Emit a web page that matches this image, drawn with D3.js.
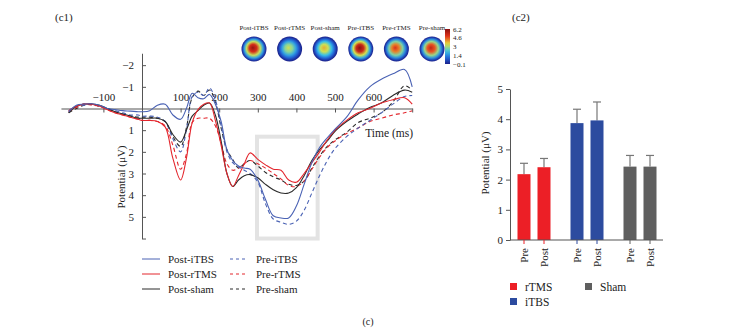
<!DOCTYPE html>
<html>
<head>
<meta charset="utf-8">
<script src="https://cdnjs.cloudflare.com/ajax/libs/d3/7.8.5/d3.min.js"></script>
<style>
body { margin: 0; background: #fff; }
text { font-family: "Liberation Serif", "DejaVu Serif", serif; fill: #222; }
.axis path, .axis line { stroke: #555; }
</style>
</head>
<body>
<div id="vis"></div>
<script>
// ---- data ----
var times = [-190,-170,-150,-130,-110,-90,-70,-50,-30,-10,0,20,40,60,80,100,115,130,145,160,175,190,205,220,235,250,265,280,300,320,340,360,380,400,420,440,460,480,500,530,560,590,620,650,680,700];

var postITBS = [0.15,-0.15,-0.2,-0.22,-0.15,0,0.05,0.1,0.12,0.15,0.15,0.1,-0.15,-0.2,0.3,0.5,0,-0.7,-0.5,-0.45,-0.65,-0.2,0.6,1.9,2.4,2.65,2.75,2.8,3.3,4.2,4.95,5.05,5.05,4.5,3.5,2.5,1.8,1.35,0.95,0.4,-0.4,-1.0,-1.35,-1.6,-1.8,-1.0];
var postRTMS = [0.1,-0.1,-0.2,-0.2,-0.1,0.05,0.2,0.3,0.4,0.5,0.55,0.55,0.6,0.85,2.3,3.3,2.3,0.65,0.05,-0.2,-0.25,0.55,1.7,3.0,3.6,3.1,2.55,2.05,2.35,2.6,2.8,2.85,3.3,3.4,3.0,2.5,2.0,1.45,1.0,0.55,0.2,0,-0.25,-0.4,-0.5,-0.2];
var postSham = [0.2,-0.1,-0.2,-0.2,-0.15,0,0.15,0.25,0.35,0.45,0.45,0.45,0.45,0.6,1.2,1.55,1.0,0.35,0.1,-0.15,-0.25,0.3,1.5,3.0,3.6,3.3,3.1,3.05,3.2,3.5,3.75,3.9,3.9,3.65,3.1,2.4,1.9,1.5,1.05,0.6,0.25,-0.05,-0.25,-0.6,-0.85,-0.75];
var preITBS = [0.1,-0.1,-0.15,-0.2,-0.1,0,0.1,0.2,0.3,0.3,0.35,0.35,0.4,0.6,1.4,2.0,1.0,-0.55,-0.75,-0.6,-0.95,-0.4,0.8,2.0,2.5,2.7,2.85,3.0,3.4,4.4,5.1,5.25,5.35,5.2,4.7,3.9,3.1,2.4,1.85,1.3,0.9,0.55,0.2,-0.2,-0.55,-0.6];
var preRTMS = [0.15,-0.05,-0.2,-0.15,-0.1,0.05,0.2,0.3,0.4,0.5,0.55,0.55,0.6,0.8,1.7,2.8,2.1,0.65,0.45,0.45,0.45,0.8,1.6,2.55,2.85,2.75,2.55,2.4,2.55,2.75,3.0,3.25,3.55,3.6,3.35,2.8,2.25,1.8,1.5,1.15,0.9,0.6,0.45,0.3,0.2,0.1];
var preSham = [0.2,0,-0.15,-0.2,-0.1,0,0.15,0.25,0.35,0.4,0.4,0.4,0.45,0.6,1.3,1.75,0.9,-0.5,-0.8,-0.6,-0.85,-0.3,0.9,1.9,2.35,2.75,2.55,2.4,2.65,2.95,3.15,3.3,3.5,3.55,3.35,2.75,2.2,1.75,1.45,1.1,0.65,0.45,0.2,-0.3,-1.05,-0.85];

var xTicks = [-100, 100, 200, 300, 400, 500, 600, 700];
var yTicks = [-2, -1, 1, 2, 3, 4, 5, 6];
var windowMs = [298, 455];
var windowUV = [1.3, 6];

var topoLabels = ['Post-iTBS', 'Post-rTMS', 'Post-sham', 'Pre-iTBS', 'Pre-rTMS', 'Pre-sham'];
var topoPeaks = [6.0, 3.3, 3.9, 6.2, 5.0, 5.4];
var colorbarTicks = [6.2, 4.6, 3, 1.4, -0.1];

var barGroups = ['rTMS', 'iTBS', 'Sham'];
var phases = ['Pre', 'Post'];
var preMeans = [2.18, 3.87, 2.43];
var postMeans = [2.41, 3.96, 2.43];
var preErr = [0.36, 0.46, 0.37];
var postErr = [0.29, 0.61, 0.37];
var barTicks = [0, 1, 2, 3, 4, 5];

// ---- setup ----
var width = 737, height = 332;
var svg = d3.select('#vis').append('svg')
    .attr('width', width)
    .attr('height', height);

var fmt = function(d) { return d < 0 ? '\u2212' + Math.abs(d) : '' + d; };

// ---- (c1) ERP curves ----
var series = [
    {name: 'Post-iTBS', values: postITBS, color: '#4a62b4', dash: null},
    {name: 'Post-rTMS', values: postRTMS, color: '#e3262d', dash: null},
    {name: 'Post-sham', values: postSham, color: '#2b2b2b', dash: null},
    {name: 'Pre-iTBS', values: preITBS, color: '#4a62b4', dash: '4,3'},
    {name: 'Pre-rTMS', values: preRTMS, color: '#e3262d', dash: '4,3'},
    {name: 'Pre-sham', values: preSham, color: '#2b2b2b', dash: '4,3'}
];

var msPx = 0.386, x0 = 142;
var x = d3.scaleLinear().domain([-210, 700]).range([x0 - 210 * msPx, x0 + 700 * msPx]);
var y = d3.scaleLinear().domain([-2.55, 6]).range([108.5 - 2.55 * 21.67, 108.5 + 6 * 21.67]);

svg.append('text').attr('x', 55).attr('y', 21).style('font-size', '11px').text('(c1)');

// highlight window
svg.append('rect')
    .attr('x', x(windowMs[0])).attr('y', y(windowUV[0]))
    .attr('width', x(windowMs[1]) - x(windowMs[0]))
    .attr('height', y(windowUV[1]) - y(windowUV[0]))
    .attr('fill', 'none').attr('stroke', '#e3e3e3').attr('stroke-width', 4);

var xAxis = d3.axisBottom(x).tickValues(xTicks).tickSize(4).tickSizeOuter(0)
    .tickFormat(function(d) { return d === 700 ? '' : fmt(d); });
var gx = svg.append('g').attr('class', 'axis')
    .attr('transform', 'translate(0,' + y(0) + ')')
    .call(xAxis);
gx.selectAll('text').attr('y', -8).attr('dy', 0)
    .style('font-size', '11px').style('font-family', '"Liberation Serif", serif').attr('fill', '#222');

var yAxis = d3.axisLeft(y).tickValues(yTicks).tickSize(-4).tickSizeOuter(0).tickPadding(8)
    .tickFormat(function(d) { return d === 6 ? '' : fmt(d); });
var gy = svg.append('g').attr('class', 'axis')
    .attr('transform', 'translate(' + x(0) + ',0)')
    .call(yAxis);
gy.selectAll('text').style('font-size', '11px').style('font-family', '"Liberation Serif", serif').attr('fill', '#222');

var line = d3.line()
    .x(function(d, i) { return x(times[i]); })
    .y(function(d) { return y(d); })
    .curve(d3.curveCatmullRom.alpha(0.5));

svg.append('g').selectAll('path')
    .data(series.slice().reverse())
    .enter().append('path')
    .attr('d', function(s) { return line(s.values); })
    .attr('fill', 'none')
    .attr('stroke', function(s) { return s.color; })
    .attr('stroke-width', 1.1)
    .attr('stroke-dasharray', function(s) { return s.dash; });

svg.append('text').attr('x', 413).attr('y', 137).attr('text-anchor', 'end')
    .style('font-size', '11.5px').text('Time (ms)');
svg.append('text')
    .attr('transform', 'translate(125,177) rotate(-90)')
    .attr('text-anchor', 'middle').style('font-size', '11px').text('Potential (\u03bcV)');

// legend
var leg = svg.append('g').selectAll('g')
    .data(series)
    .enter().append('g')
    .attr('transform', function(s, i) {
        return 'translate(' + (i < 3 ? 142 : 230) + ',' + (259 + (i % 3) * 15) + ')';
    });
leg.append('line').attr('x1', 0).attr('x2', 18)
    .attr('stroke', function(s) { return s.color; })
    .attr('stroke-dasharray', function(s) { return s.dash ? '3,3' : null; })
    .attr('stroke-width', 1);
leg.append('text').attr('x', 26).attr('y', 4).style('font-size', '11px')
    .text(function(s) { return s.name; });

// topographic maps
var jet = d3.scaleLinear()
    .domain([-0.1, 1.0, 2.2, 3.5, 4.8, 6.2])
    .range(['#1b1f8a', '#2264d8', '#3cc8e6', '#e6e43c', '#e8361c', '#8a1010']);
var defs = svg.append('defs');
var topoStops = [[0, 1], [0.3, 0.85], [0.55, 0.55], [0.75, 0.3], [0.9, 0.1], [1, 0]];
topoPeaks.forEach(function(p, i) {
    var g = defs.append('radialGradient').attr('id', 'topo' + i)
        .attr('fx', '45%').attr('fy', '45%');
    topoStops.forEach(function(s) {
        var v = -0.1 + (p + 0.1) * s[1];
        if (s[1] === 0) v = -0.1;
        g.append('stop').attr('offset', s[0]).attr('stop-color', jet(v));
    });
});
var topo = svg.append('g').selectAll('g')
    .data(topoLabels)
    .enter().append('g')
    .attr('transform', function(d, i) { return 'translate(' + (254 + i * 35.6) + ',49)'; });
topo.append('circle').attr('r', 12.5)
    .attr('fill', function(d, i) { return 'url(#topo' + i + ')'; });
topo.append('text').attr('y', -19).attr('text-anchor', 'middle')
    .style('font-size', '7px').text(function(d) { return d; });

var cb = defs.append('linearGradient').attr('id', 'cbar')
    .attr('x1', 0).attr('x2', 0).attr('y1', 0).attr('y2', 1);
d3.range(0, 1.01, 0.1).forEach(function(t) {
    cb.append('stop').attr('offset', t).attr('stop-color', jet(6.2 - t * 6.3));
});
var cbY = d3.scaleLinear().domain([6.2, -0.1]).range([29, 64]);
svg.append('rect').attr('x', 445).attr('y', 29).attr('width', 5).attr('height', 35)
    .attr('fill', 'url(#cbar)');
svg.append('g').selectAll('text')
    .data(colorbarTicks)
    .enter().append('text')
    .attr('x', 453).attr('y', function(d) { return cbY(d) + 2.5; })
    .style('font-size', '7px')
    .text(function(d) { return fmt(d); });

// ---- (c2) bar chart ----
svg.append('text').attr('x', 512).attr('y', 21).style('font-size', '11px').text('(c2)');

var yb = d3.scaleLinear().domain([0, 5]).range([240, 89]);
var xg = d3.scaleBand().domain(barGroups).range([507.5, 666.5]);
var xp = d3.scaleBand().domain(phases).range([6.5, 46.5]);
var barColors = d3.scaleOrdinal().domain(barGroups).range(['#ec1f26', '#2c4b9f', '#5f5f5f']);
var barW = 13;

var bars = [];
barGroups.forEach(function(g, i) {
    bars.push({group: g, phase: 'Pre', mean: preMeans[i], err: preErr[i]});
    bars.push({group: g, phase: 'Post', mean: postMeans[i], err: postErr[i]});
});
var bx = function(d) { return xg(d.group) + xp(d.phase) + xp.bandwidth() / 2; };

var yAxisB = d3.axisLeft(yb).tickValues(barTicks).tickSize(4).tickSizeOuter(0)
    .tickFormat(d3.format('d'));
var gyb = svg.append('g').attr('class', 'axis')
    .attr('transform', 'translate(510,0)')
    .call(yAxisB);
gyb.selectAll('text').style('font-size', '11px').style('font-family', '"Liberation Serif", serif').attr('fill', '#222');

// error bars
var eb = svg.append('g').selectAll('g')
    .data(bars)
    .enter().append('g');
eb.append('line')
    .attr('x1', bx).attr('x2', bx)
    .attr('y1', function(d) { return yb(d.mean); })
    .attr('y2', function(d) { return yb(d.mean + d.err); })
    .attr('stroke', '#777').attr('stroke-width', 1.2);
eb.append('line')
    .attr('x1', function(d) { return bx(d) - 4; }).attr('x2', function(d) { return bx(d) + 4; })
    .attr('y1', function(d) { return yb(d.mean + d.err); })
    .attr('y2', function(d) { return yb(d.mean + d.err); })
    .attr('stroke', '#777').attr('stroke-width', 1.2);

svg.append('g').selectAll('rect')
    .data(bars)
    .enter().append('rect')
    .attr('x', function(d) { return bx(d) - barW / 2; })
    .attr('y', function(d) { return yb(d.mean); })
    .attr('width', barW)
    .attr('height', function(d) { return yb(0) - yb(d.mean); })
    .attr('fill', function(d) { return barColors(d.group); });

// x axis of bar chart
svg.append('line').attr('x1', 510).attr('x2', 663).attr('y1', yb(0)).attr('y2', yb(0))
    .attr('stroke', '#555');
var xt = svg.append('g').selectAll('g')
    .data(bars)
    .enter().append('g')
    .attr('transform', function(d) { return 'translate(' + bx(d) + ',' + yb(0) + ')'; });
xt.append('line').attr('y2', 4).attr('stroke', function(d) { return barColors(d.group); });
xt.append('text')
    .attr('transform', 'translate(4,8) rotate(-90)')
    .attr('text-anchor', 'end')
    .style('font-size', '11px')
    .text(function(d) { return d.phase; });

svg.append('text')
    .attr('transform', 'translate(489,163) rotate(-90)')
    .attr('text-anchor', 'middle').style('font-size', '11px').text('Potential (\u03bcV)');

// bar legend
var legPos = [[510, 283], [585, 283], [510, 298]];
var legOrder = ['rTMS', 'Sham', 'iTBS'];
var bl = svg.append('g').selectAll('g')
    .data(legOrder)
    .enter().append('g')
    .attr('transform', function(d, i) { return 'translate(' + legPos[i][0] + ',' + legPos[i][1] + ')'; });
bl.append('rect').attr('width', 7).attr('height', 7).attr('fill', function(d) { return barColors(d); });
bl.append('text').attr('x', 15).attr('y', 7.5).style('font-size', '11.5px').text(function(d) { return d; });

svg.append('text').attr('x', 368).attr('y', 325).attr('text-anchor', 'middle')
    .style('font-size', '10px').text('(c)');
</script>
</body>
</html>
